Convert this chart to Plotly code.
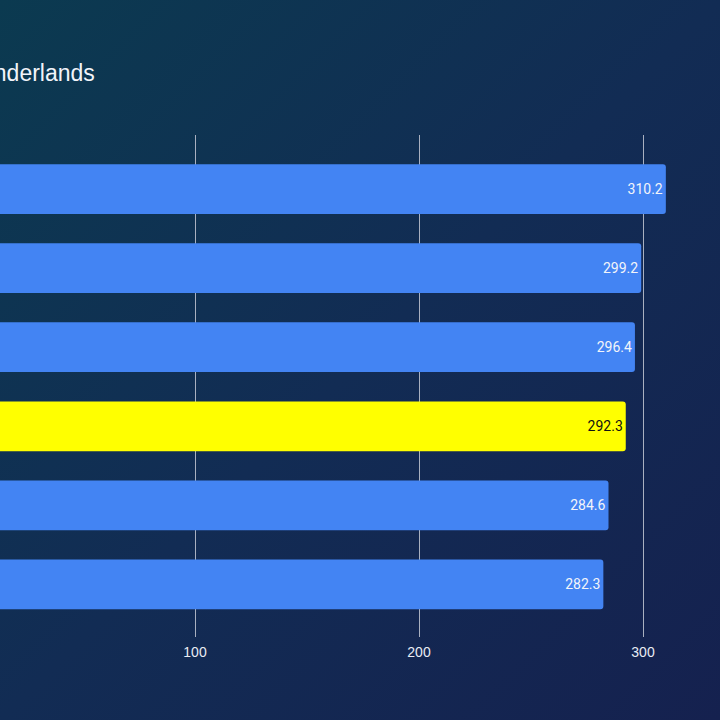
import base64
import plotly.graph_objects as go

# ---- data ----
categories = ["Config 1", "Config 2", "Config 3", "Config 4", "Config 5", "Config 6"]
values = [310.2, 299.2, 296.4, 292.3, 284.6, 282.3]
highlight = [False, False, False, True, False, False]
tick_values = [100, 200, 300]
tick_labels = ["100", "200", "300"]
title_text = "Tiny Tina's Wonderlands"

W, H = 720, 720
M_T, M_B = 135, 83
plot_h = H - M_T - M_B

bar_colors = ["#ffff00" if h else "#4384f3" for h in highlight]
text_colors = ["#111111" if h else "#f2f4fa" for h in highlight]

svg = (
    '<svg xmlns="http://www.w3.org/2000/svg" width="720" height="720">'
    '<defs><linearGradient id="g" x1="0" y1="0" x2="1" y2="1">'
    '<stop offset="0" stop-color="#0b3a50"/>'
    '<stop offset="0.5" stop-color="#122c54"/>'
    '<stop offset="1" stop-color="#15214f"/>'
    '</linearGradient></defs>'
    '<rect width="720" height="720" fill="url(#g)"/></svg>'
)
bg_uri = "data:image/svg+xml;base64," + base64.b64encode(svg.encode()).decode()

fig = go.Figure()
fig.add_trace(go.Bar(
    y=categories,
    x=values,
    orientation="h",
    marker=dict(color=bar_colors, line=dict(width=0), cornerradius=3),
    text=[f"{v:.1f}" for v in values],
    textposition="inside",
    insidetextanchor="end",
    textfont=dict(family="Roboto", size=14, color=text_colors),
    hoverinfo="skip",
))

px_per_unit = 2.24
x0 = 29 / px_per_unit
x1 = x0 + W / px_per_unit

fig.update_layout(
    width=W, height=H,
    margin=dict(l=0, r=0, t=M_T, b=M_B, pad=0),
    paper_bgcolor="#112d53",
    plot_bgcolor="rgba(0,0,0,0)",
    bargap=0.37,
    showlegend=False,
    xaxis=dict(
        range=[x0, x1],
        tickvals=tick_values,
        ticktext=tick_labels,
        showgrid=True,
        gridcolor="#a9b0c0",
        gridwidth=1,
        zeroline=False,
        showline=False,
        ticks="",
        ticklabelstandoff=5,
        tickfont=dict(family="Liberation Sans, Arial", size=14, color="#e8ecf4"),
    ),
    yaxis=dict(
        range=[5.665, -0.684],
        showticklabels=False,
        showgrid=False,
        zeroline=False,
        ticks="",
    ),
    images=[dict(
        source=bg_uri, xref="paper", yref="paper",
        x=0, y=1 + M_T / plot_h, sizex=1, sizey=H / plot_h,
        xanchor="left", yanchor="top", sizing="stretch", layer="below",
    )],
    annotations=[dict(
        text=title_text, xref="paper", yref="paper",
        x=97 / W, y=1 + (M_T - 73) / plot_h,
        xanchor="right", yanchor="middle", showarrow=False,
        font=dict(family="Liberation Sans, Arial", size=23, color="#f2f4fa"),
    )],
)

fig.write_html("out.html")
